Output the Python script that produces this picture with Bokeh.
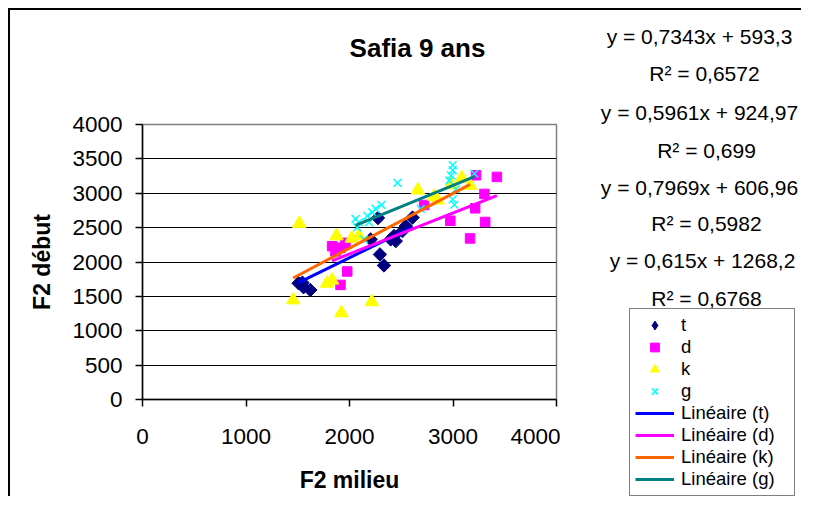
from math import pi
from bokeh.plotting import figure
from bokeh.layouts import row, column
from bokeh.models import Legend, LegendItem, FixedTicker, Range1d, Spacer
from bokeh.core.properties import value
from bokeh.embed import file_html
from bokeh.resources import INLINE

# ---- data ----
series_names = ["t", "d", "k", "g"]

t_x = [1508, 1545, 1556, 1621, 2204, 2275, 2294, 2333, 2398, 2430, 2447, 2512, 2544, 2609]
t_y = [1691, 1700, 1633, 1593, 2329, 2640, 2110, 1950, 2329, 2377, 2304, 2450, 2523, 2646]

d_x = [1832, 1864, 1913, 1961, 1978, 1913, 2721, 2974, 3165, 3214, 3223, 3304, 3311, 3424]
d_y = [2230, 2156, 2206, 2279, 1862, 1667, 2829, 2600, 2343, 2781, 3262, 2990, 2582, 3238]

k_x = [1456, 1515, 1783, 1832, 1874, 1922, 2022, 2091, 2215, 2660, 2819, 2851, 2981, 3085, 3165]
k_y = [1447, 2560, 1690, 1735, 2380, 1260, 2345, 2380, 1420, 3045, 2951, 2900, 3121, 3220, 3115]

g_x = [2058, 2075, 2091, 2140, 2172, 2188, 2220, 2252, 2308, 2463, 2689, 2964, 2981, 2997, 2997, 2997, 3013, 3029, 3207]
g_y = [2626, 2505, 2577, 2330, 2670, 2577, 2723, 2772, 2830, 3150, 2772, 3185, 3260, 3335, 3410, 2910, 2835, 3060, 3285]

slopes = [0.7343, 0.5961, 0.7969, 0.615]
intercepts = [593.3, 924.97, 606.96, 1268.2]
r_squared = ["0,6572", "0,699", "0,5982", "0,6768"]

x_ticks = [0, 1000, 2000, 3000, 4000]
y_ticks = [0, 500, 1000, 1500, 2000, 2500, 3000, 3500, 4000]

title_text = "Safia 9 ans"
x_label = "F2 milieu"
y_label = "F2 début"

# ---- styles / layout ----
FONT = "Liberation Sans"
marker_kw = [
    dict(marker="square", size=9.5, angle=pi / 4, fill_color="#000080", line_color="#000080"),
    dict(marker="square", size=9.5, fill_color="#FF00FF", line_color="#FF00FF"),
    dict(marker="triangle", size=13.5, fill_color="#FFFF00", line_color="#FFFF00"),
    dict(marker="x", size=11, line_color="#00FFFF", line_width=1.5),
]
legend_marker_kw = [
    dict(marker="diamond", size=14, fill_color="#000080", line_color="#000080"),
    dict(marker="square", size=9, fill_color="#FF00FF", line_color="#FF00FF"),
    dict(marker="triangle", size=12, fill_color="#FFFF00", line_color="#FFFF00"),
    dict(marker="x", size=9, line_color="#00FFFF", line_width=1.5),
]
trend_colors = ["#0000FF", "#FF00FF", "#FF6600", "#008080"]

OX, OY = 10, 10          # inner origin in the picture (after 8px spacer + 2px border)
H = 486                  # total inner height
HT = 80                  # height of the title strip
WP = 550
WQ = 241


def no_align(fig):
    if "frame_align" in fig.properties():
        fig.frame_align = False


def blank(fig):
    no_align(fig)
    fig.axis.visible = False
    fig.grid.visible = False
    fig.outline_line_color = None
    fig.background_fill_color = "white"
    fig.border_fill_color = "white"


# ---- title strip (coordinates = picture pixels) ----
tfig = figure(width=WP, height=HT, frame_width=WP, frame_height=HT, min_border=0,
              output_backend="svg", toolbar_location=None,
              x_range=Range1d(OX, OX + WP), y_range=Range1d(OY + HT, OY))
blank(tfig)
tfig.text(x=[417], y=[47], text=[title_text], text_font=value(FONT), text_font_size=value("26px"),
          text_font_style="bold", text_align="center", text_baseline="middle", text_color="black")

# ---- main chart ----
HP = H - HT
p = figure(width=WP, height=HP, output_backend="svg", toolbar_location=None,
           x_range=Range1d(0, 4000), y_range=Range1d(0, 4000),
           min_border_left=142 - OX, min_border_right=WP - (142 - OX) - 414,
           min_border_top=124 - OY - HT, min_border_bottom=HP - (124 - OY - HT) - 275)
no_align(p)
p.background_fill_color = "white"
p.border_fill_color = "white"
p.outline_line_color = "#808080"
p.outline_line_width = 1.5

for ax, ticks in ((p.xaxis, x_ticks), (p.yaxis, y_ticks)):
    ax.ticker = FixedTicker(ticks=ticks)
    ax.major_label_text_font = FONT
    ax.major_label_text_font_size = "22.5px"
    ax.major_label_text_color = "black"
    ax.axis_line_color = "black"
    ax.axis_line_width = 1.5
    ax.major_tick_line_color = "black"
    ax.major_tick_line_width = 1.5
    ax.major_tick_out = 7
    ax.major_tick_in = 0
    ax.minor_tick_line_color = None
    ax.axis_label_text_font = FONT
    ax.axis_label_text_font_size = "23px"
    ax.axis_label_text_font_style = "bold"
    ax.axis_label_text_color = "black"

p.xaxis.axis_label = x_label
p.yaxis.axis_label = y_label
p.xaxis.major_label_standoff = 22
p.yaxis.major_label_standoff = 13
p.xaxis.axis_label_standoff = 20
p.yaxis.axis_label_standoff = 14

p.xgrid.visible = False
p.ygrid.ticker = FixedTicker(ticks=y_ticks[1:-1])
p.ygrid.grid_line_color = "black"
p.ygrid.grid_line_width = 1.2

xs_all = [t_x, d_x, k_x, g_x]
ys_all = [t_y, d_y, k_y, g_y]

for xs, ys, kw in zip(xs_all, ys_all, marker_kw):
    p.scatter(xs, ys, **kw)

for xs, m, b, c in zip(xs_all, slopes, intercepts, trend_colors):
    x0, x1 = min(xs), max(xs)
    p.line([x0, x1], [m * x0 + b, m * x1 + b], line_color=c, line_width=3)

# ---- right-hand panel: equations and legend (coordinates = picture pixels) ----
q = figure(width=WQ, height=H, frame_width=WQ, frame_height=H,
           output_backend="svg", toolbar_location=None,
           x_range=Range1d(OX + WP, OX + WP + WQ), y_range=Range1d(OY + H, OY),
           min_border=0)
blank(q)


def fmt(v):
    return str(v).replace(".", ",")


texts = []
for m, b, r2 in zip(slopes, intercepts, r_squared):
    texts.append(f"y = {fmt(m)}x + {fmt(b)}")
    texts.append(f"R² = {r2}")
eq_cy = [36, 73, 112, 150, 187, 223, 260, 298]
eq_cx = [699, 704, 699, 706, 699, 706, 702, 706]
q.text(x=eq_cx, y=eq_cy, text=texts, text_font=value(FONT), text_font_size=value("21px"),
       text_align="center", text_baseline="middle", text_color="black")

nan = float("nan")
proxy = [q.scatter(x=[nan], y=[nan], **kw) for kw in legend_marker_kw]
proxy += [q.line(x=[nan, nan], y=[nan, nan], line_color=c, line_width=3) for c in trend_colors]
labels = series_names + [f"Linéaire ({n})" for n in series_names]
legend = Legend(items=[LegendItem(label=l, renderers=[r]) for l, r in zip(labels, proxy)],
                location=(629 - (OX + WP), 0))
legend.label_text_font = FONT
legend.label_text_font_size = "18.5px"
legend.label_text_color = "black"
legend.glyph_width = 39
legend.glyph_height = 22
legend.label_height = 22
legend.label_width = 108
legend.label_standoff = 7
legend.padding = 5
legend.spacing = 0
legend.margin = 0
legend.border_line_color = "black"
legend.border_line_width = 1.5
legend.background_fill_color = "white"
legend.background_fill_alpha = 1
q.add_layout(legend)

inner = row(column(tfig, p), q, styles={"border-left": "2px solid black", "border-top": "2px solid black"})
layout = column(Spacer(height=8), row(Spacer(width=8), inner))

open("out.html", "w").write(file_html(layout, INLINE))
